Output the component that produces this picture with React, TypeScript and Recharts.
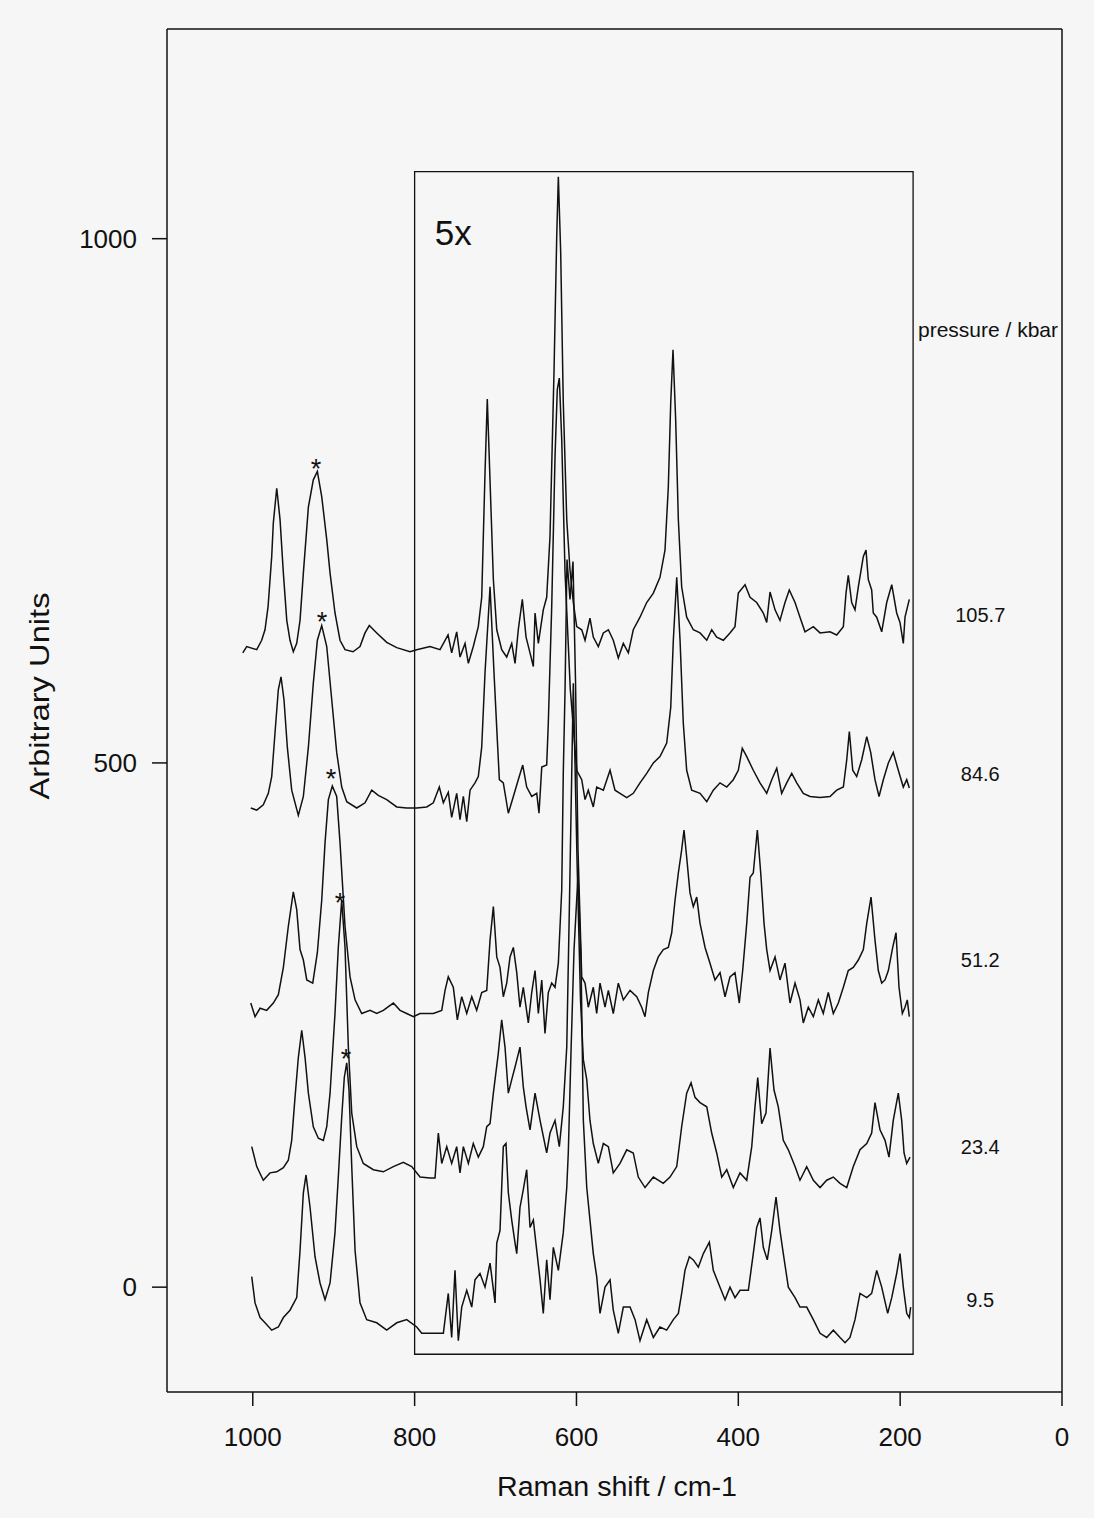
import React from 'react'
import { LineChart, Line, XAxis, YAxis, ReferenceLine, ReferenceArea, ReferenceDot, Label } from 'recharts'

// Raman spectra at several pressures, offset vertically
type Pt = [number, number]

const s105_7: Pt[] = [
  [1012.4, 605], [1007.5, 611], [995.1, 608], [989, 617], [984.9, 627], [981.1, 649], [976.6, 697], [974.6, 729],
  [970.4, 762], [966.3, 732], [962.2, 681], [958, 636], [954, 617], [949.9, 606], [945.7, 614], [941.6, 636],
  [937.5, 681], [931.3, 744], [925.2, 770], [920.2, 778], [914.8, 754], [908.6, 713], [904.5, 681], [898.4, 643],
  [892.2, 617], [886, 608], [876.1, 606], [867.5, 611], [861.3, 624], [856, 631], [846.8, 624], [834.5, 615],
  [822.1, 610], [805.7, 606], [797.4, 608], [781, 611], [768.6, 608], [758.7, 622], [754.2, 605], [748, 625],
  [743.9, 601], [737.7, 614], [733.6, 595], [727.5, 611], [721.3, 630], [717.1, 658], [713, 777], [710.2, 847],
  [702.7, 675], [698.5, 627], [692.4, 608], [686.2, 601], [680, 614], [675.9, 595], [671.9, 627], [666.9, 656],
  [662.3, 620], [657.4, 605], [653.3, 592], [651.2, 643], [647.1, 614], [641, 646], [636.8, 658], [632.7, 716],
  [627.7, 875], [624.4, 1002], [622.4, 1059], [619.5, 987], [616.3, 844], [612, 732], [608, 684], [603.9, 653],
  [599.7, 630], [593.5, 627], [589.4, 617], [583.3, 638], [579.2, 620], [573, 611], [566.8, 624], [560.6, 627],
  [554.5, 617], [548.3, 600], [542.1, 614], [535.9, 605], [529.8, 627], [521.5, 639], [513.2, 653], [505, 662],
  [496.8, 677], [490.6, 703], [486.5, 763], [483.5, 844], [480.7, 894], [477.4, 827], [474.1, 732], [470, 668],
  [463.8, 639], [455.6, 627], [447.3, 624], [439, 617], [432.9, 627], [426.7, 620], [418.5, 617], [410.3, 624],
  [404.1, 630], [400, 662], [391.7, 670], [385.5, 658], [377.3, 653], [369.1, 643], [364.9, 634], [360.8, 663],
  [354.6, 646], [348.5, 636], [342.3, 653], [337, 665], [329.9, 653], [323.8, 639], [317.6, 625], [307.3, 630],
  [299, 624], [286.7, 625], [278.4, 622], [270.2, 630], [266.9, 662], [264.1, 679], [259.9, 653], [255.8, 646],
  [251.7, 668], [245.5, 697], [242.2, 703], [239.4, 675], [235.2, 665], [233.2, 643], [229, 639], [222.8, 625],
  [216.6, 653], [210.4, 670], [204.3, 643], [200.2, 634], [196.1, 614], [194, 639], [188.7, 656],
]

const s84_6: Pt[] = [
  [1002.5, 457], [995.1, 455], [987, 460], [980.8, 471], [976.6, 487], [972.5, 529], [968.4, 570], [965.1, 582],
  [961.4, 560], [957.3, 515], [951.9, 474], [943.7, 450], [937.5, 468], [931.3, 515], [925.2, 576], [920.2, 617],
  [914.8, 631], [908.6, 611], [902.4, 560], [896.3, 510], [890.1, 477], [883.9, 463], [871.5, 457], [861.3, 462],
  [853, 474], [844.9, 469], [834.5, 465], [822.1, 458], [809.8, 457], [797.4, 457], [785, 458], [776.9, 462],
  [769.5, 477], [764.5, 462], [758.4, 472], [754.2, 448], [748, 471], [743.9, 446], [739.8, 468], [735.6, 444],
  [731.5, 474], [725.4, 481], [721.3, 487], [717.1, 515], [713, 586], [706.8, 668], [701.9, 586], [697.8, 522],
  [695.3, 484], [690.4, 481], [684.2, 452], [678, 468], [671.9, 484], [666.4, 498], [661.5, 477], [655.3, 468],
  [649.1, 471], [646.3, 452], [642.9, 496], [636.8, 498], [634.8, 538], [630.6, 649], [626.5, 792], [623.7, 856],
  [621.2, 867], [618.2, 808], [614.1, 681], [607.6, 570], [599.7, 493], [593.5, 484], [589.4, 465], [585.4, 474],
  [579.2, 458], [575, 477], [566.8, 474], [558.5, 493], [552.4, 474], [546.2, 471], [537.9, 467], [529.8, 471],
  [521.5, 481], [513.2, 490], [505, 500], [496.8, 506], [488.5, 519], [483.5, 553], [480.3, 617], [476.1, 677],
  [472, 617], [468, 538], [463.8, 493], [457.6, 474], [447.3, 471], [439, 463], [430.9, 474], [422.6, 481],
  [414.3, 477], [406.2, 484], [400, 493], [395.1, 514], [389.6, 506], [381.5, 493], [373.2, 481], [364.9, 471],
  [358.7, 484], [352.5, 495], [346.4, 471], [340.2, 481], [334, 490], [327.8, 481], [319.7, 471], [311.4, 468],
  [299, 467], [286.7, 468], [278.4, 474], [270.2, 477], [266, 503], [262.8, 530], [258.6, 493], [253.7, 487],
  [247.5, 503], [241.3, 525], [236.4, 510], [231.1, 484], [226.1, 468], [220.8, 484], [214.6, 500], [208.5, 510],
  [202.3, 493], [196.1, 477], [191.9, 484], [188.7, 476],
]

const s51_2: Pt[] = [
  [1002.5, 271], [997.2, 258], [991, 266], [982.8, 264], [974.6, 271], [968.4, 279], [962.2, 305], [956.1, 344],
  [949.9, 377], [945.7, 360], [941.6, 322], [937.5, 312], [933.3, 293], [925.9, 290], [920.2, 319], [914.8, 369],
  [910.7, 424], [906.6, 465], [901.7, 478], [896.3, 468], [892.2, 424], [886, 344], [879.8, 296], [873.6, 274],
  [865.4, 261], [855.1, 264], [846.8, 261], [838.7, 264], [826.3, 271], [818, 264], [809.8, 261], [801.6, 258],
  [793.3, 261], [776.9, 261], [766.5, 264], [762.4, 283], [758.4, 296], [752.2, 286], [747.2, 255], [741.8, 277],
  [735.6, 261], [729.4, 277], [723.3, 264], [717.1, 281], [710.9, 283], [706.8, 331], [702.7, 363], [698.5, 315],
  [694.5, 305], [690.4, 277], [686.2, 290], [682.1, 315], [678, 324], [673.8, 300], [669.8, 267], [665.7, 286],
  [659.5, 252], [655.3, 281], [651.2, 302], [647.1, 261], [642.9, 293], [638.9, 242], [634.8, 281], [630.6, 290],
  [626.5, 286], [622.4, 309], [618.2, 379], [616.3, 490], [614.1, 570], [611.7, 694], [608, 656], [604.3, 692],
  [601.2, 579], [598.1, 417], [593.5, 296], [589.4, 290], [585.4, 267], [579.2, 286], [575, 261], [570.9, 290],
  [564.7, 267], [560.6, 283], [554.5, 261], [548.3, 290], [542.1, 274], [533.8, 283], [525.5, 277], [519.4, 267],
  [515.3, 258], [511.2, 281], [505, 302], [498.9, 315], [492.7, 322], [486.5, 324], [482.3, 338], [478.2, 369],
  [474.1, 395], [470, 417], [467.1, 436], [463.8, 410], [459.7, 376], [455.6, 363], [451.4, 372], [447.3, 347],
  [441.1, 324], [435, 309], [428.8, 293], [422.6, 300], [416.4, 277], [410.3, 296], [404.1, 300], [398.8, 271],
  [394.6, 302], [389.6, 347], [385.5, 391], [381.5, 395], [376.5, 436], [372.3, 395], [368.2, 347], [364.9, 322],
  [360.8, 302], [354.6, 315], [348.5, 293], [342.3, 309], [336.1, 271], [329.9, 290], [323.8, 274], [319.7, 252],
  [313.5, 267], [307.3, 258], [301.1, 274], [295, 261], [288.8, 281], [282.6, 261], [276.4, 271], [270.2, 286],
  [264.1, 302], [257.9, 305], [251.7, 312], [245.5, 322], [241.3, 347], [236, 372], [231.1, 331], [227, 302],
  [222.8, 290], [218.7, 293], [214.6, 302], [209.2, 324], [205.1, 338], [201.4, 286], [197.3, 261], [194, 267],
  [191.2, 274], [188.7, 258],
]

const s23_4: Pt[] = [
  [1001.3, 134], [995.1, 115], [987, 102], [978.7, 109], [970.4, 110], [962.2, 114], [956.1, 121], [951.9, 140],
  [947.8, 181], [943.7, 219], [939.5, 245], [935.4, 219], [931.3, 185], [925.2, 153], [919, 142], [912.8, 140],
  [908.6, 153], [904.5, 185], [898.4, 261], [894.3, 324], [890.1, 369], [886, 324], [881.9, 229], [877.7, 166],
  [871.5, 134], [863.4, 118], [851, 112], [838.7, 110], [826.3, 115], [814, 119], [803.6, 115], [793.3, 105],
  [781, 104], [774.8, 104], [770.7, 147], [766.5, 118], [760.3, 134], [754.2, 118], [748, 134], [743.9, 109],
  [739.8, 134], [733.6, 118], [727.5, 137], [721.3, 124], [715.1, 134], [710.9, 153], [706.8, 156], [702.7, 185],
  [696.6, 223], [692.4, 255], [688.3, 229], [684.2, 185], [680, 198], [675.9, 210], [669.8, 229], [665.7, 191],
  [662.3, 172], [657.4, 150], [651.2, 185], [645, 159], [636.8, 128], [632.7, 147], [626.5, 159], [621.2, 134],
  [616.3, 172], [612, 229], [608.6, 369], [603.9, 576], [599.3, 407], [595, 274], [591.5, 217], [587.3, 198],
  [583.3, 159], [579.2, 137], [573, 118], [566.8, 137], [560.6, 134], [554.5, 109], [546.2, 118], [537.9, 131],
  [529.8, 128], [523.6, 105], [515.3, 95], [505, 105], [492.7, 99], [484.4, 105], [476.1, 115], [470, 153],
  [463.8, 185], [458.4, 195], [453.5, 181], [447.3, 176], [439, 172], [432.9, 147], [426.7, 128], [420.5, 105],
  [414.3, 112], [406.2, 95], [397.9, 109], [389.6, 102], [383.4, 134], [379.4, 172], [376, 200], [371.1, 156],
  [365.8, 166], [360.8, 228], [355.9, 188], [350.6, 172], [344.4, 140], [338.2, 131], [329.9, 115], [323.8, 102],
  [315.5, 115], [307.3, 102], [299, 95], [290.8, 102], [282.6, 105], [274.3, 99], [266, 95], [257.9, 115],
  [249.6, 131], [241.3, 137], [235.2, 147], [231.1, 176], [224.9, 150], [218.7, 140], [213.8, 124], [208.5, 159],
  [202.3, 185], [198.1, 159], [195.2, 128], [191.9, 118], [187.8, 124],
]

const s9_5: Pt[] = [
  [1001.3, 10], [997.2, -15], [991, -29], [984.9, -34], [976.6, -41], [968.4, -38], [962.2, -29], [954, -22],
  [945.7, -10], [941.6, 35], [937.5, 90], [934.2, 107], [929.2, 76], [923.1, 29], [916.9, 4], [910.7, -12],
  [904.5, 4], [898.4, 52], [894.3, 105], [890.1, 162], [886.9, 200], [883.9, 214], [881.1, 188], [877.7, 115],
  [873.6, 35], [867.5, -15], [859.2, -31], [846.8, -34], [834.5, -41], [822.1, -34], [809.8, -31], [797.4, -38],
  [791.2, -44], [776.9, -44], [764.5, -44], [758.4, -6], [754.2, -48], [750.1, 16], [746, -51], [741.8, -19],
  [735.6, -3], [729.4, -19], [725.4, 7], [719.2, 13], [713, 0], [706.8, 23], [700.6, -15], [698.5, 42],
  [694.5, 54], [692.4, 95], [690.4, 134], [687.1, 137], [684.2, 90], [680, 64], [675.9, 42], [673.8, 32],
  [669.8, 76], [665.7, 93], [661.5, 112], [657.4, 57], [653.3, 64], [649.1, 35], [645, 7], [641, -25],
  [636.8, 26], [632.7, -12], [628.6, 38], [622.4, 16], [616.3, 52], [612, 95], [610.1, 128], [606.7, 226],
  [603, 322], [598.1, 393], [594.4, 312], [591.5, 159], [587.3, 95], [583.3, 64], [579.2, 32], [575, 10],
  [570.9, -25], [564.7, 0], [558.5, 7], [554.5, -22], [548.3, -44], [542.1, -19], [533.8, -19], [527.6, -31],
  [521.5, -51], [513.2, -31], [505, -48], [496.8, -38], [488.5, -41], [480.3, -31], [474.1, -25], [470, -6],
  [465.9, 16], [460.5, 29], [455.6, 26], [449.4, 19], [443.2, 32], [435.8, 43], [430.9, 16], [424.7, 4],
  [416.4, -12], [410.3, 0], [404.1, -10], [397.9, -3], [387.6, -3], [381.5, 32], [377.3, 57], [373.2, 66],
  [369.1, 38], [364.2, 26], [358.7, 54], [353.4, 86], [348.5, 54], [344.4, 32], [338.2, 0], [329.9, -10],
  [323.8, -19], [315.5, -19], [307.3, -31], [299, -44], [290.8, -48], [282.6, -41], [274.3, -48], [268.1, -53],
  [262, -48], [255.8, -31], [249.6, -6], [241.3, -10], [235.2, -6], [229, 16], [222.8, 0], [215.4, -25],
  [210.4, -10], [204.3, 13], [200.2, 32], [196.1, 0], [191.9, -25], [188.7, -29], [187, -19],
]

const series = [s105_7, s84_6, s51_2, s23_4, s9_5]

const xTicks = [1000, 800, 600, 400, 200, 0]
const yTicks = [0, 500, 1000]

const pressures = ['105.7', '84.6', '51.2', '23.4', '9.5']
const pressureY = [641, 489, 312, 134, -12]
const starX = [921.8, 914.4, 903.3, 892.2, 884.8]
const starY = [786, 640, 490, 372, 223]

const toRows = (pts: Pt[]) => pts.map(([x, y]) => ({ x, y }))

const font = '"Liberation Sans", Arial, Helvetica, sans-serif'

const textShape = (txt: string, size: number, anchor: 'start' | 'middle' | 'end', shift: number) =>
  (p: any) => (
    <text x={p.cx} y={p.cy + shift} textAnchor={anchor} fontSize={size} fill="#111" fontFamily={font}>
      {txt}
    </text>
  )

export default function App() {
  return (
    <div style={{ position: 'absolute', left: 0, top: 0, width: 1094, height: 1518, background: '#f6f6f6' }}>
      <div style={{ marginLeft: 8, marginTop: 8 }}>
        <LineChart width={1078} height={1500} margin={{ top: 21, right: 24, bottom: 0, left: 0 }} style={{ fontFamily: font }}>
          <XAxis
            type="number"
            dataKey="x"
            domain={[0, 1106]}
            reversed
            allowDataOverflow
            ticks={xTicks}
            height={116}
            tickSize={14}
            tickMargin={22}
            stroke="#111"
            strokeWidth={1.5}
            tick={{ fill: '#111', fontSize: 26 }}
          >
            <Label
              content={() => (
                <text x={609} y={1488} textAnchor="middle" fontSize={27} fill="#111" fontFamily={font}
                  textLength={240} lengthAdjust="spacingAndGlyphs">
                  Raman shift / cm-1
                </text>
              )}
            />
          </XAxis>
          <YAxis
            type="number"
            dataKey="y"
            domain={[-100, 1200]}
            allowDataOverflow
            ticks={yTicks}
            width={159}
            tickSize={15}
            tickMargin={15}
            stroke="#111"
            strokeWidth={1.5}
            tick={{ fill: '#111', fontSize: 26 }}
          >
            <Label
              content={() => (
                <text x={31} y={688} transform="rotate(-90 31 688)" textAnchor="middle" dominantBaseline="central"
                  fontSize={28} fill="#111" fontFamily={font} textLength={207} lengthAdjust="spacingAndGlyphs">
                  Arbitrary Units
                </text>
              )}
            />
          </YAxis>

          <ReferenceLine y={1200} stroke="#111" strokeWidth={1.5} />
          <ReferenceLine x={0} stroke="#111" strokeWidth={1.5} />
          <ReferenceArea x1={800} x2={184} y1={-64} y2={1064} fill="none" stroke="#111" strokeWidth={1.3} fillOpacity={0} />

          {series.map((s, i) => (
            <Line
              key={pressures[i]}
              data={toRows(s)}
              dataKey="y"
              type="linear"
              stroke="#111"
              strokeWidth={1.5}
              dot={false}
              isAnimationActive={false}
            />
          ))}

          {pressures.map((p, i) => (
            <ReferenceDot key={'p' + p} x={101} y={pressureY[i]} r={0} shape={textShape(p, 20, 'middle', 7)} />
          ))}
          {starX.map((sx, i) => (
            <ReferenceDot key={'s' + i} x={sx} y={starY[i]} r={0} shape={textShape('*', 27, 'middle', 15)} />
          ))}
          <ReferenceDot x={178} y={913} r={0} shape={textShape('pressure / kbar', 21, 'start', 7)} />
          <ReferenceDot x={775} y={994} r={0} shape={textShape('5x', 35, 'start', 0)} />
        </LineChart>
      </div>
    </div>
  )
}
